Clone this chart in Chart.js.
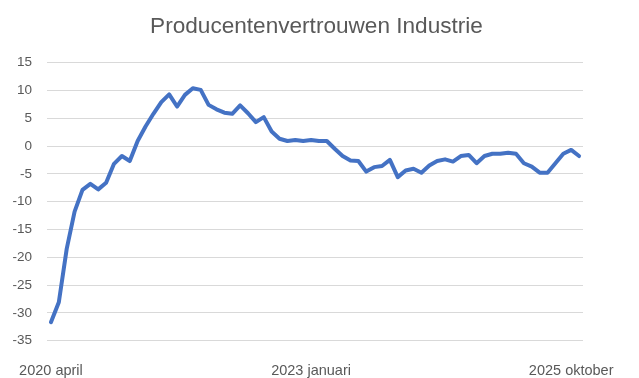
<!DOCTYPE html>
<html>
<head>
<meta charset="utf-8">
<script src="https://cdn.jsdelivr.net/npm/chart.js@4.4.0/dist/chart.umd.min.js"></script>
<style>
	body { margin: 0; background: #fff; }
	#wrap { width: 639px; height: 378px; }
</style>
</head>
<body>
<div id="wrap"><canvas id="producenten"></canvas></div>
<script>
const maanden = ["januari", "februari", "maart", "april", "mei", "juni", "juli", "augustus", "september", "oktober", "november", "december"];

// april 2020 t/m november 2025
const categories = [];
for (let i = 0; i < 68; i++) {
	const m = 3 + i;
	categories.push((2020 + Math.floor(m / 12)) + " " + maanden[m % 12]);
}

const tickLabels = ["2020 april", "2023 januari", "2025 oktober"];

const vertrouwen = [
	-31.7, -28.1, -18.5, -11.8, -7.9, -6.8, -7.8, -6.6, -3.2, -1.8,
	-2.7, 0.9, 3.5, 5.8, 7.9, 9.3, 7.1, 9.2, 10.4, 10.1,
	7.4, 6.6, 6.0, 5.8, 7.3, 5.9, 4.3, 5.2, 2.6, 1.3,
	0.9, 1.1, 0.9, 1.1, 0.9, 0.9, -0.5, -1.8, -2.6, -2.7,
	-4.6, -3.8, -3.6, -2.5, -5.6, -4.4, -4.1, -4.8, -3.5, -2.7,
	-2.4, -2.8, -1.8, -1.6, -3.1, -1.8, -1.4, -1.4, -1.2, -1.4,
	-3.1, -3.7, -4.8, -4.8, -3.1, -1.4, -0.7, -1.8
];

const yMin = -35;
const yMax = 15;
const yStep = 5;

const ctx = document.getElementById("producenten").getContext("2d");
const chart = new Chart(ctx, {
	type: "line",
	data: {
		labels: categories,
		datasets: [
			{
				data: vertrouwen,
				borderColor: "#4472C4",
				borderWidth: 4,
				borderJoinStyle: "round",
				borderCapStyle: "round",
				pointRadius: 0,
				tension: 0,
				fill: false,
			},
		],
	},
	options: {
		responsive: true,
		maintainAspectRatio: false,
		animation: false,
		layout: {
			padding: { left: 0, right: 6, top: 0, bottom: 0 },
		},
		plugins: {
			legend: { display: false },
			tooltip: { enabled: false },
			title: {
				display: true,
				text: "Producentenvertrouwen Industrie",
				color: "#595959",
				font: { family: "'Liberation Sans', Arial, sans-serif", size: 22.6, weight: "normal" },
				padding: { top: 13.5, bottom: 22 },
			},
		},
		scales: {
			x: {
				offset: true,
				grid: { display: false },
				border: { display: false },
				ticks: {
					autoSkip: false,
					maxRotation: 0,
					padding: 14,
					color: "#595959",
					font: { family: "'Liberation Sans', Arial, sans-serif", size: 14.5 },
					callback: function (val) {
						const lab = this.getLabelForValue(val);
						return tickLabels.includes(lab) ? lab : "";
					},
				},
				afterFit: (scale) => {
					scale.height = 37.4;
				},
			},
			y: {
				min: yMin,
				max: yMax,
				grid: { color: "#d9d9d9", lineWidth: 1, drawTicks: false },
				border: { display: false },
				ticks: {
					stepSize: yStep,
					padding: 15,
					color: "#595959",
					font: { family: "'Liberation Sans', Arial, sans-serif", size: 13.5 },
				},
				afterFit: (scale) => {
					scale.width = 47;
				},
			},
			// lege ruimte rechts van het plotvlak
			rechts: {
				position: "right",
				min: yMin,
				max: yMax,
				grid: { drawOnChartArea: false, drawTicks: false },
				border: { display: false },
				ticks: { display: false },
				afterFit: (scale) => {
					scale.width = 50;
				},
			},
		},
	},
});
</script>
</body>
</html>
